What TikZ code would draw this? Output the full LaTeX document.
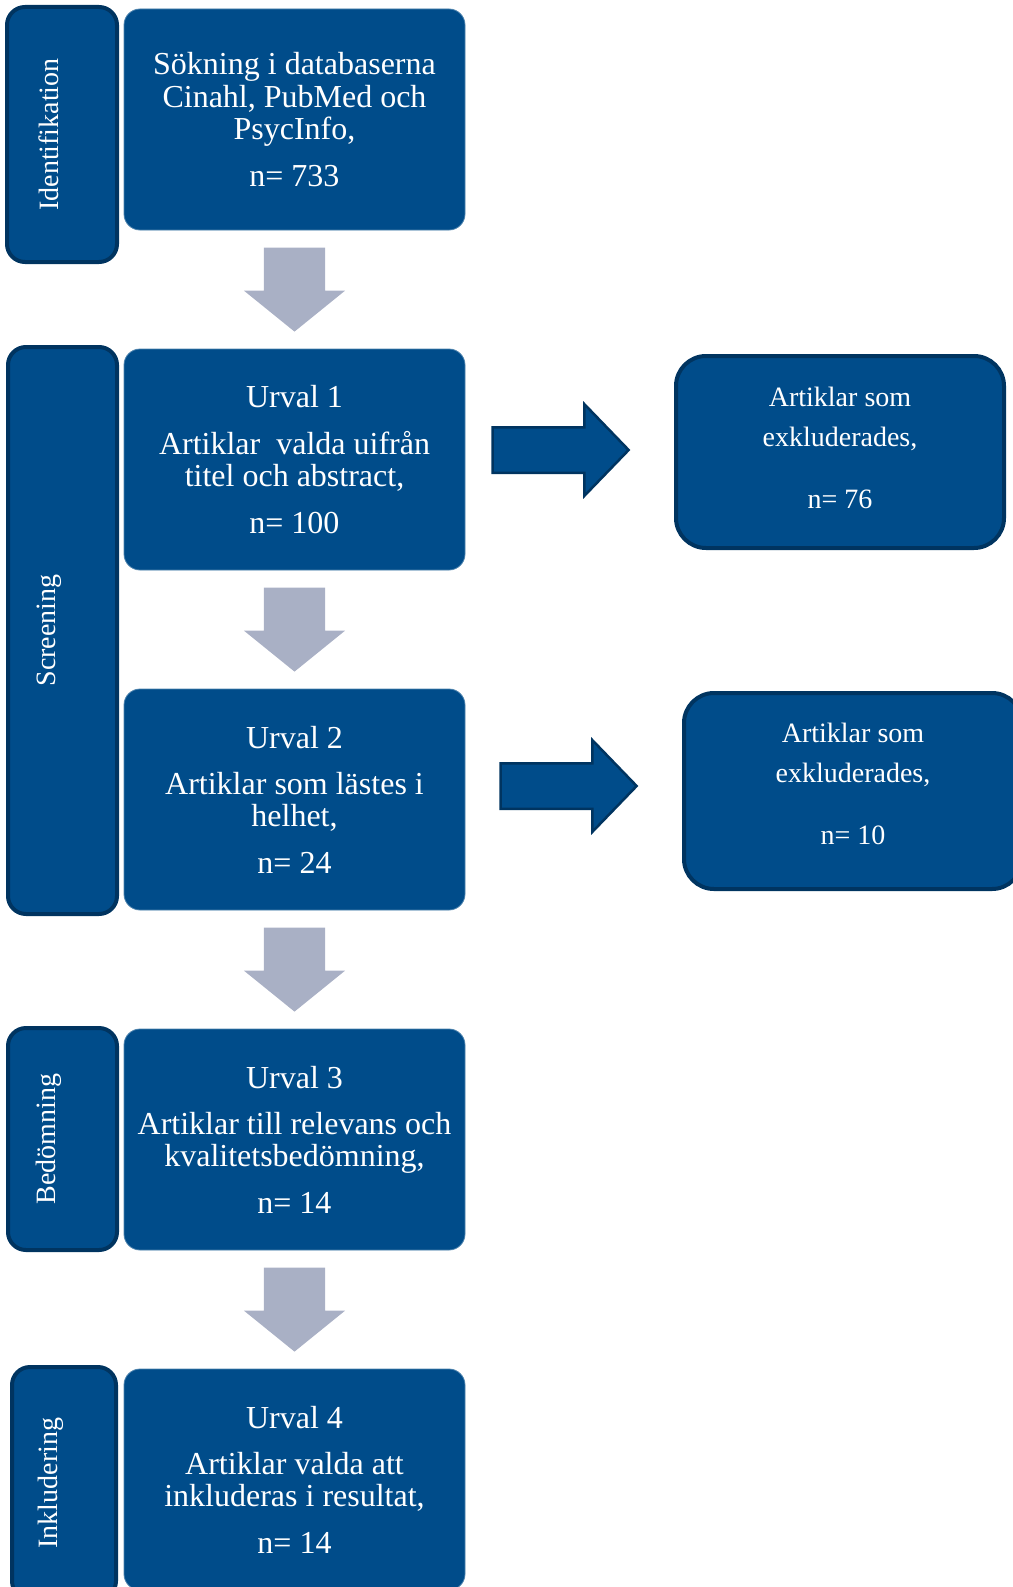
\documentclass[tikz,border=0pt]{standalone}
\usepackage{fontspec}
\setmainfont{Liberation Serif}
\usetikzlibrary{shapes.arrows,calc}
\definecolor{boxblue}{RGB}{0,76,138}
\definecolor{edgeblue}{RGB}{0,52,96}
\definecolor{arrowgrey}{RGB}{169,176,197}
\tikzset{
  stepbox/.style={shape=rectangle, rounded corners=16pt, fill=boxblue, draw=boxblue!70!white, line width=0.8pt, text=white, align=center, inner sep=0, minimum width=341pt, minimum height=221pt, font=\fontsize{32}{32.4}\selectfont},
  phasebox/.style={shape=rectangle, rounded corners=18pt, fill=boxblue, draw=edgeblue, line width=4pt, inner sep=0},
  phasetext/.style={rotate=90, text=white, inner sep=0, font=\fontsize{28}{30}\selectfont},
  exclbox/.style={shape=rectangle, rounded corners=30pt, fill=boxblue, draw=edgeblue, line width=4pt, inner sep=0},
  excltext/.style={text=white, align=center, inner sep=0, font=\fontsize{28}{40}\selectfont},
  downarrow/.style={single arrow, rotate=-90, anchor=tail, fill=arrowgrey, inner xsep=0, inner ysep=30.5pt, single arrow head extend=20pt, single arrow tip angle=102, minimum height=84pt, minimum width=0pt},
  sidearrow/.style={single arrow, anchor=tail, fill=boxblue, draw=edgeblue, line width=2.5pt, inner xsep=0, inner ysep=21.5pt, single arrow head extend=23pt, single arrow tip angle=92, minimum height=136pt, minimum width=0pt}
}
\begin{document}
\begin{tikzpicture}[x=1pt, y=-1pt]
  % Paths, nodes and arrows:
  \useasboundingbox (0,0) rectangle (1012,1587);
  \node[phasebox, minimum width=110pt, minimum height=255pt] (ident) at (62,134.5){} node[phasetext] (identtxt) at (49,134.5){Identifikation};
  \node[phasebox, minimum width=109pt, minimum height=567pt] (screen) at (62.5,630.5){} node[phasetext] (screentxt) at (49,630.5){Screening};
  \node[phasebox, minimum width=109pt, minimum height=222pt] (bedom) at (62.5,1139){} node[phasetext] (bedomtxt) at (49,1139){Bedömning};
  \node[phasebox, minimum width=104pt, minimum height=232pt] (inkl) at (64,1483){} node[phasetext] (inkltxt) at (51,1483){Inkludering};
  \node[stepbox] (s0) at (294.5,119.5){Sökning i databaserna\\Cinahl, PubMed och\\PsycInfo,\\[14pt]n= 733};
  \node[stepbox] (u1) at (294.5,459.5){Urval 1\\[14pt]Artiklar~ valda uifrån\\titel och abstract,\\[14pt]n= 100};
  \node[stepbox] (u2) at (294.5,799.5){Urval 2\\[14pt]Artiklar som lästes i\\helhet,\\[14pt]n= 24};
  \node[stepbox] (u3) at (294.5,1139.5){Urval 3\\[14pt]Artiklar till relevans och\\kvalitetsbedömning,\\[14pt]n= 14};
  \node[stepbox] (u4) at (294.5,1479.5){Urval 4\\[14pt]Artiklar valda att\\inkluderas i resultat,\\[14pt]n= 14};
  \node[exclbox, minimum width=328pt, minimum height=192pt] (ex1) at (840,452){} node[excltext] (ex1txt) at (840,448){Artiklar som\\exkluderades,\\[22pt]n= 76};
  \node[exclbox, minimum width=338pt, minimum height=196pt] (ex2) at (853,791){} node[excltext] (ex2txt) at (853,784){Artiklar som\\exkluderades,\\[22pt]n= 10};
  \node[downarrow] (down1) at ([yshift=-17pt]s0.south){};
  \node[downarrow] (down2) at ([yshift=-17pt]u1.south){};
  \node[downarrow] (down3) at ([yshift=-17pt]u2.south){};
  \node[downarrow] (down4) at ([yshift=-17pt]u3.south){};
  \node[sidearrow] (side1) at ([xshift=26pt,yshift=9.5pt]u1.east){};
  \node[sidearrow] (side2) at ([xshift=34pt,yshift=13.5pt]u2.east){};
\end{tikzpicture}
\end{document}
